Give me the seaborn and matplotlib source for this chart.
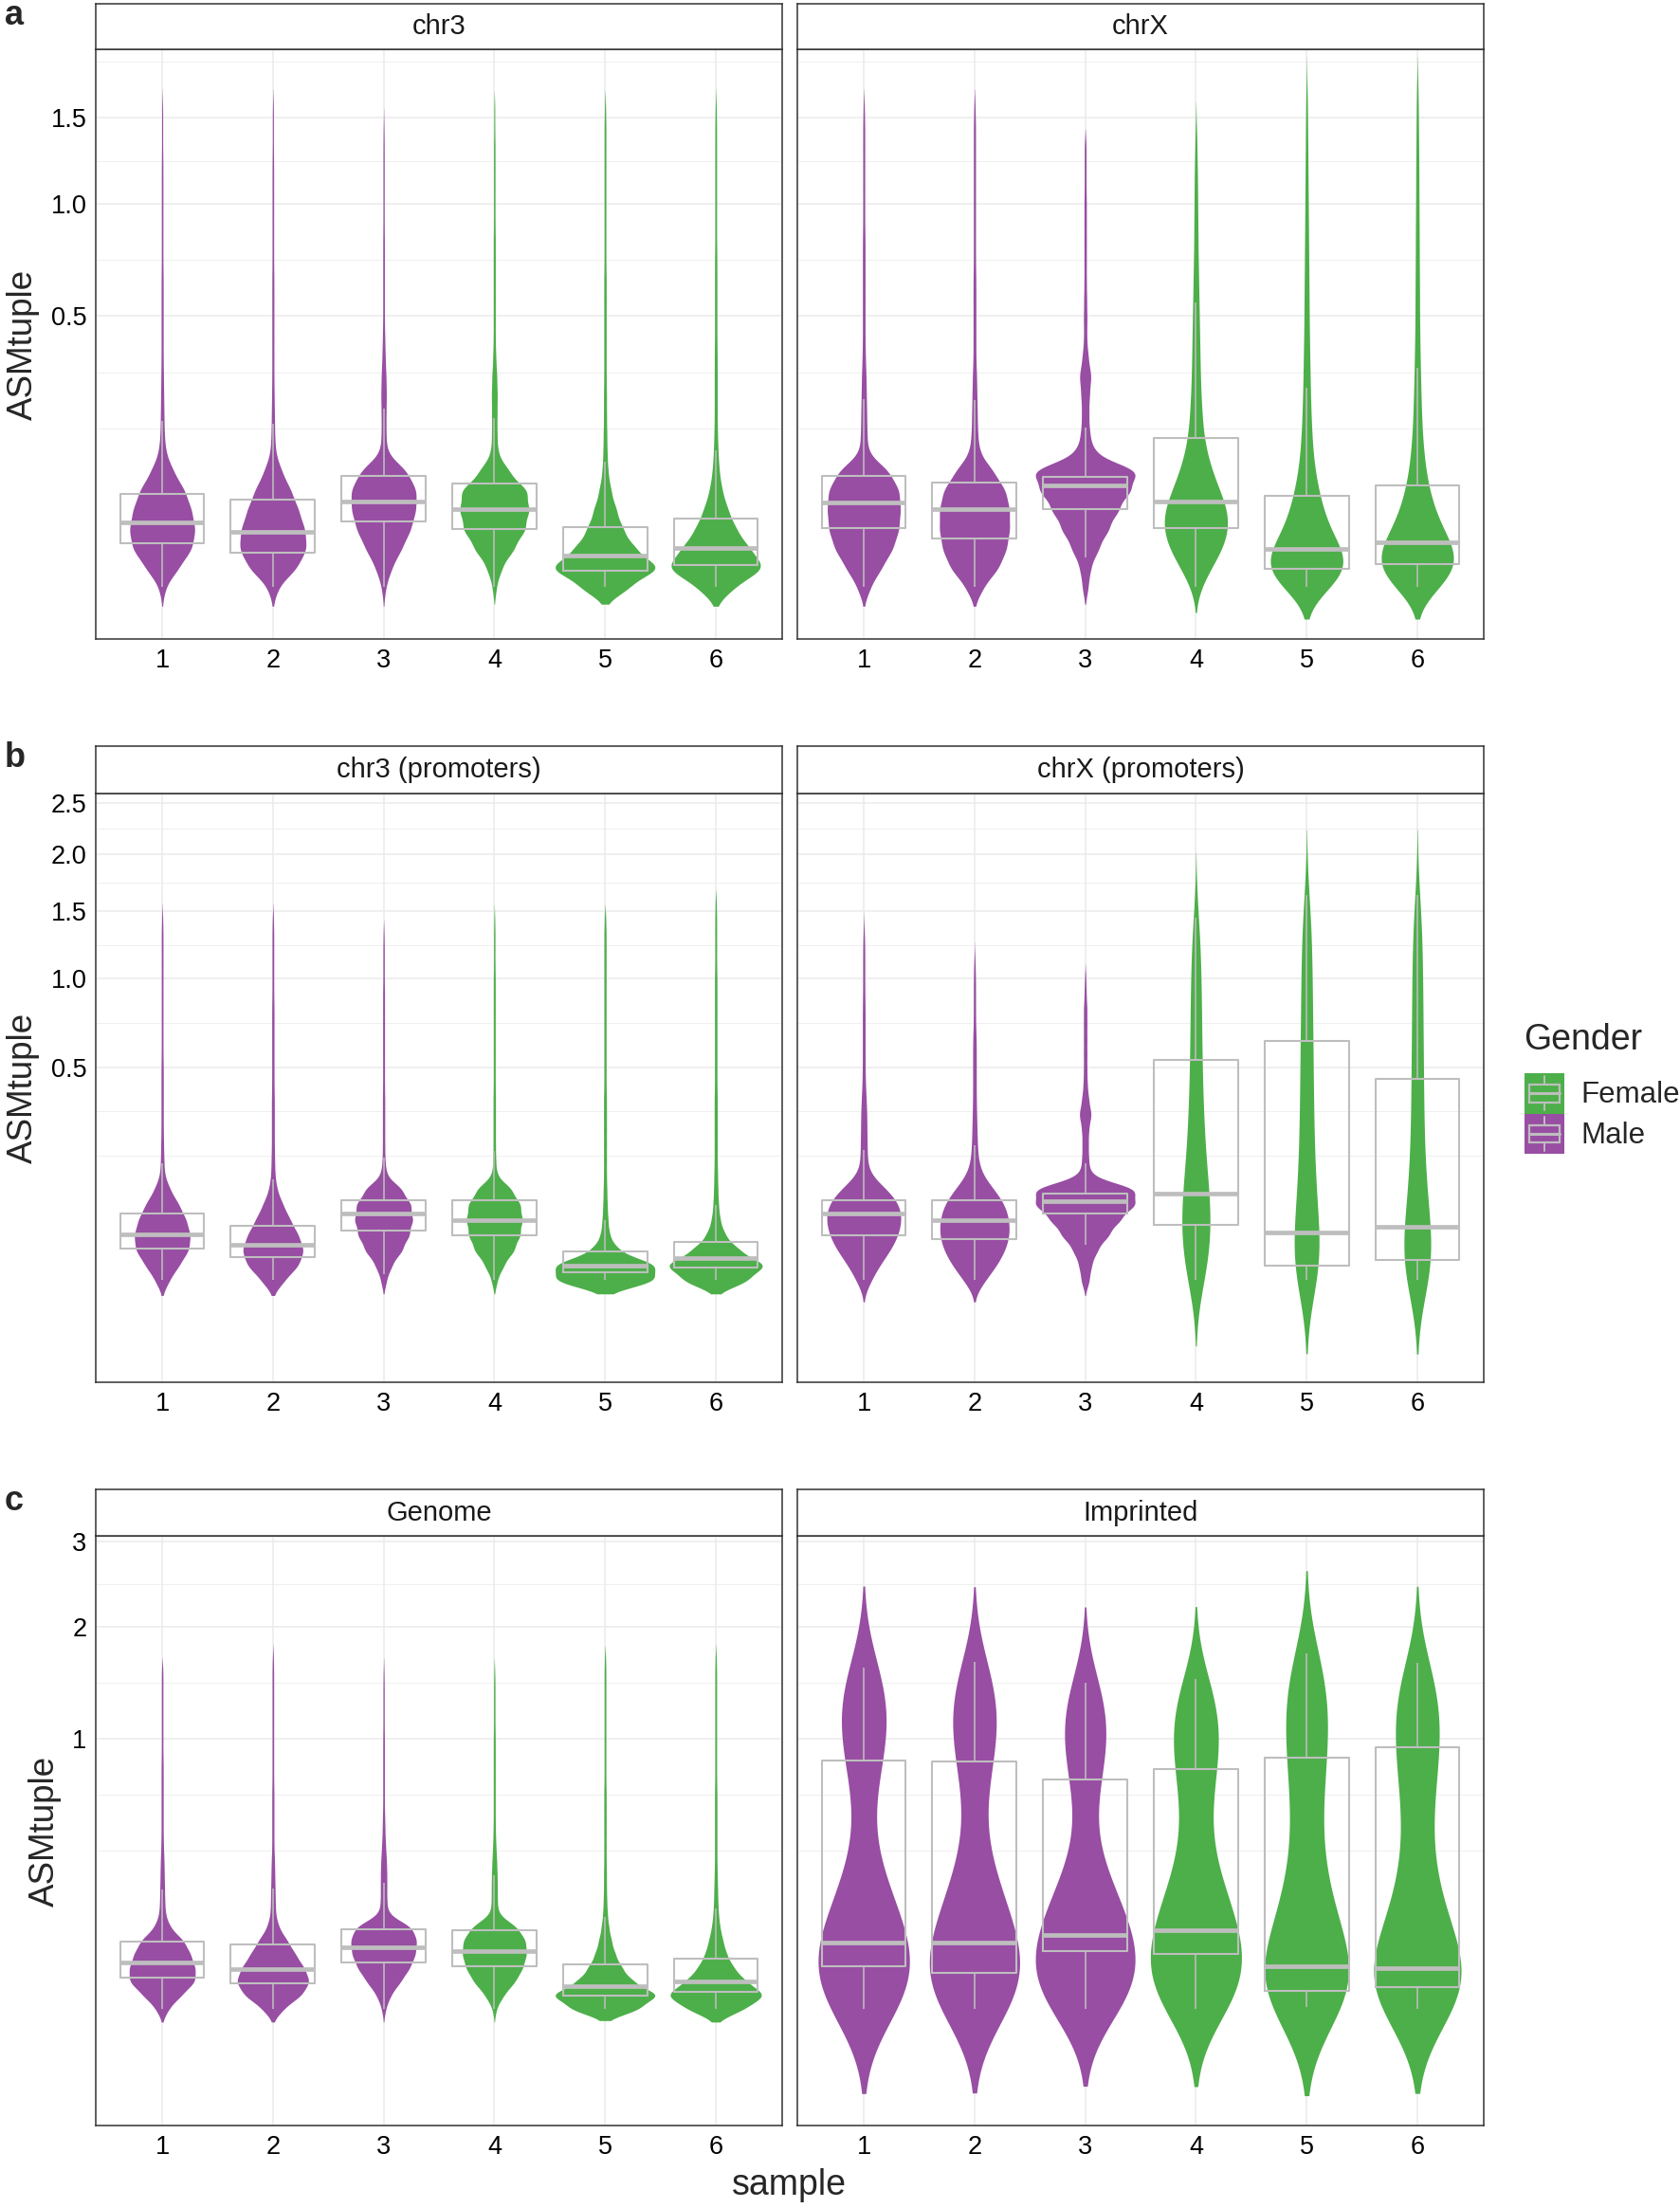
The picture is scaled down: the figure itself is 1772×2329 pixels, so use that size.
import numpy as np
import pandas as pd
import matplotlib
matplotlib.use("Agg")
import matplotlib.pyplot as plt
import seaborn as sns
from matplotlib.legend_handler import HandlerBase
from matplotlib.patches import Patch, Rectangle
from matplotlib.lines import Line2D

samples = ["1", "2", "3", "4", "5", "6"]
gender = ["Male", "Male", "Male", "Female", "Female", "Female"]
palette = {"Female": "#4DAF4A", "Male": "#984EA3"}
BOX_GREY = "#BEBEBE"

# violin outlines: counts per bin of sqrt(ASMtuple), bins 0.05 wide starting at 0
BIN = 0.05

a_chr3 = [
    [12, 65, 118, 130, 115, 90, 45, 14, 8, 7, 6, 5, 4, 4, 4, 4, 4, 3, 3, 3, 3, 3, 3, 2, 2, 2],
    [20, 95, 133, 125, 100, 72, 35, 10, 7, 6, 5, 4, 4, 4, 4, 4, 4, 3, 3, 3, 3, 3, 3, 2, 2, 2],
    [10, 40, 90, 135, 160, 165, 120, 15, 12, 12, 14, 12, 8, 6, 4, 4, 4, 4, 4, 3, 3, 3, 3, 3, 2],
    [8, 30, 80, 125, 140, 135, 60, 14, 11, 11, 12, 10, 6, 4, 4, 4, 4, 4, 4, 3, 3, 3, 3, 3, 2, 2],
    [80, 185, 100, 60, 38, 20, 10, 7, 6, 5, 5, 4, 4, 4, 4, 4, 4, 3, 3, 3, 3, 3, 3, 3, 3, 2],
    [62, 175, 115, 70, 42, 22, 12, 8, 6, 5, 5, 5, 5, 4, 4, 4, 4, 4, 3, 3, 3, 3, 3, 3, 3, 2],
]
a_chrX = [
    [20, 55, 90, 108, 112, 110, 80, 12, 10, 9, 8, 7, 5, 4, 4, 4, 4, 4, 4, 3, 3, 3, 3, 3, 3, 2],
    [25, 70, 92, 100, 100, 90, 55, 14, 9, 8, 7, 6, 4, 4, 4, 4, 4, 3, 3, 3, 3, 3, 3, 3, 3, 2],
    [10, 18, 45, 78, 110, 150, 180, 30, 15, 12, 14, 20, 10, 5, 6, 5, 4, 4, 4, 4, 4, 3, 3, 3],
    [15, 45, 78, 95, 92, 70, 48, 32, 22, 18, 15, 13, 12, 11, 10, 9, 8, 7, 6, 6, 5, 5, 4, 3, 2],
    [78, 142, 110, 72, 52, 38, 26, 20, 16, 14, 12, 11, 10, 9, 8, 8, 7, 7, 6, 6, 5, 5, 4, 4, 3, 3, 2],
    [74, 133, 120, 80, 55, 38, 27, 20, 16, 13, 12, 10, 9, 8, 7, 7, 7, 6, 6, 6, 5, 5, 5, 4, 4, 3, 3],
]
b_chr3 = [
    [25, 60, 95, 100, 85, 60, 28, 8, 6, 5, 4, 4, 4, 4, 4, 3, 3, 3, 3, 3, 3, 3, 3, 3, 2],
    [40, 90, 108, 88, 60, 35, 14, 7, 6, 5, 5, 5, 5, 4, 4, 4, 4, 4, 4, 3, 3, 3, 3, 3, 2],
    [12, 35, 80, 110, 125, 118, 80, 12, 6, 5, 5, 5, 5, 4, 4, 4, 4, 4, 4, 4, 3, 3, 3, 2],
    [12, 40, 85, 110, 120, 112, 75, 10, 6, 5, 5, 5, 5, 4, 4, 4, 4, 4, 4, 4, 4, 3, 3, 3, 2],
    [140, 140, 35, 12, 8, 6, 5, 4, 4, 4, 4, 4, 4, 3, 3, 3, 3, 3, 3, 3, 3, 3, 3, 3, 2],
    [105, 165, 75, 30, 14, 9, 7, 6, 5, 5, 5, 5, 5, 4, 4, 4, 4, 4, 4, 4, 4, 3, 3, 3, 3, 2],
]
b_chrX = [
    [22, 45, 78, 100, 110, 105, 70, 15, 10, 10, 9, 9, 7, 5, 4, 4, 4, 4, 4, 3, 3, 3, 3, 2],
    [30, 62, 85, 97, 95, 85, 55, 20, 10, 8, 7, 6, 5, 5, 5, 5, 5, 3, 3, 3, 3, 2],
    [12, 18, 35, 68, 100, 145, 150, 15, 10, 9, 10, 18, 10, 6, 5, 5, 5, 5, 5, 3, 2],
    [40, 38, 42, 47, 50, 46, 40, 34, 30, 27, 25, 23, 22, 20, 19, 18, 18, 18, 17, 17, 16, 15, 14, 13, 12],
    [60, 48, 44, 38, 33, 30, 27, 25, 23, 22, 21, 20, 20, 20, 19, 19, 18, 18, 17, 17, 16, 16, 15, 15, 14, 14],
    [62, 50, 45, 40, 34, 28, 25, 22, 20, 19, 18, 18, 17, 17, 17, 16, 16, 16, 15, 15, 15, 14, 14, 13, 13, 13],
]
c_genome = [
    [25, 75, 130, 128, 110, 85, 30, 12, 10, 9, 8, 7, 5, 4, 4, 4, 4, 4, 4, 3, 3, 3, 3, 3, 3, 3],
    [40, 110, 140, 118, 85, 55, 22, 10, 9, 8, 7, 6, 4, 4, 4, 4, 4, 3, 3, 3, 3, 3, 3, 3, 3, 3, 2],
    [10, 35, 85, 130, 158, 165, 145, 20, 16, 16, 16, 14, 10, 7, 6, 4, 4, 4, 4, 4, 4, 3, 3, 3, 3, 2],
    [8, 40, 90, 122, 138, 135, 100, 15, 13, 13, 12, 10, 7, 5, 4, 4, 4, 4, 4, 4, 4, 3, 3, 3, 3, 2],
    [120, 185, 95, 58, 35, 22, 13, 8, 6, 5, 5, 4, 4, 4, 4, 4, 4, 3, 3, 3, 3, 3, 3, 3, 3, 3, 2],
    [100, 172, 100, 60, 36, 24, 14, 9, 7, 6, 5, 4, 4, 4, 4, 4, 4, 3, 3, 3, 3, 3, 3, 3, 3, 3, 2],
]
c_imprinted = [
    [210, 195, 185, 178, 168, 155, 138, 118, 98, 76, 56, 40, 28, 22, 20, 22, 30, 44, 58, 72, 82, 88, 90, 90, 88, 86],
    [225, 200, 180, 168, 158, 146, 132, 116, 98, 80, 62, 46, 34, 26, 22, 24, 32, 46, 58, 70, 78, 84, 86, 86, 84, 82],
    [230, 215, 205, 200, 195, 185, 170, 150, 125, 98, 72, 50, 34, 26, 24, 28, 40, 56, 70, 80, 88, 90, 88, 84, 80],
    [215, 200, 192, 188, 184, 176, 162, 145, 122, 98, 78, 62, 52, 46, 44, 48, 58, 70, 82, 90, 95, 96, 94, 90, 86],
    [260, 220, 190, 168, 148, 128, 110, 95, 80, 68, 60, 52, 48, 46, 46, 48, 54, 60, 66, 70, 74, 76, 77, 77, 76, 75, 73],
    [255, 215, 185, 162, 142, 122, 104, 88, 72, 60, 52, 46, 42, 41, 42, 46, 53, 60, 66, 71, 75, 77, 78, 78, 77, 76],
]

# boxplot stats in sqrt(ASMtuple): lower whisker, Q1, median, Q3, upper whisker
a_chr3_box = [
    [0.0, 0.115, 0.168, 0.244, 0.434],
    [0.0, 0.090, 0.144, 0.227, 0.426],
    [0.0, 0.170, 0.223, 0.290, 0.466],
    [0.0, 0.152, 0.204, 0.270, 0.441],
    [0.0, 0.043, 0.081, 0.156, 0.326],
    [0.0, 0.056, 0.101, 0.178, 0.356],
]
a_chrX_box = [
    [0.0, 0.153, 0.221, 0.290, 0.491],
    [0.0, 0.127, 0.202, 0.273, 0.487],
    [0.076, 0.204, 0.265, 0.287, 0.415],
    [0.0, 0.153, 0.223, 0.390, 0.742],
    [0.0, 0.048, 0.099, 0.238, 0.521],
    [0.0, 0.059, 0.117, 0.266, 0.571],
]
b_chr3_box = [
    [0.0, 0.104, 0.153, 0.220, 0.389],
    [0.0, 0.078, 0.118, 0.182, 0.335],
    [0.02, 0.166, 0.220, 0.264, 0.406],
    [0.0, 0.150, 0.201, 0.264, 0.429],
    [0.0, 0.027, 0.049, 0.097, 0.198],
    [0.0, 0.042, 0.074, 0.127, 0.251],
]
b_chrX_box = [
    [0.0, 0.150, 0.220, 0.266, 0.432],
    [0.0, 0.136, 0.201, 0.264, 0.449],
    [0.117, 0.220, 0.263, 0.288, 0.389],
    [0.0, 0.185, 0.289, 0.731, 1.202],
    [0.0, 0.049, 0.158, 0.793, 1.277],
    [0.0, 0.066, 0.176, 0.668, 1.277],
]
c_genome_box = [
    [0.0, 0.114, 0.169, 0.247, 0.440],
    [0.0, 0.093, 0.147, 0.236, 0.445],
    [0.0, 0.172, 0.226, 0.293, 0.466],
    [0.0, 0.155, 0.212, 0.291, 0.493],
    [0.0, 0.047, 0.083, 0.164, 0.338],
    [0.0, 0.060, 0.100, 0.186, 0.372],
]
c_imprinted_box = [
    [0.0, 0.155, 0.243, 0.919, 1.264],
    [0.0, 0.131, 0.243, 0.917, 1.286],
    [0.0, 0.212, 0.271, 0.850, 1.209],
    [0.0, 0.203, 0.291, 0.888, 1.221],
    [0.007, 0.064, 0.155, 0.931, 1.316],
    [0.0, 0.078, 0.148, 0.969, 1.281],
]

# per panel: (title, counts, box stats, bandwidth scale, cut)
rows = [
    dict(letter="a", strip_top=4, top=52, bottom=674, ylim=(-0.136, 1.404),
         ticks=[0.5, 1.0, 1.5], labels=["0.5", "1.0", "1.5"],
         panels=[("chr3", a_chr3, a_chr3_box, 0.25, 1.8),
                 ("chrX", a_chrX, a_chrX_box, 0.25, 1.8)]),
    dict(letter="b", strip_top=787, top=837, bottom=1458, ylim=(-0.338, 1.614),
         ticks=[0.5, 1.0, 1.5, 2.0, 2.5], labels=["0.5", "1.0", "1.5", "2.0", "2.5"],
         panels=[("chr3 (promoters)", b_chr3, b_chr3_box, 0.25, 1.8),
                 ("chrX (promoters)", b_chrX, b_chrX_box, 0.32, 2.0)]),
    dict(letter="c", strip_top=1571, top=1620, bottom=2242, ylim=(-0.434, 1.752),
         ticks=[1, 2, 3], labels=["1", "2", "3"],
         panels=[("Genome", c_genome, c_genome_box, 0.25, 1.8),
                 ("Imprinted", c_imprinted, c_imprinted_box, 0.38, 2.0)]),
]
cols = [(101, 825), (841, 1565)]

W, H = 1772, 2329
sns.set_theme(style="white")
plt.rcParams["font.family"] = ["Liberation Sans", "DejaVu Sans"]


def px_rect(x0, y0, x1, y1):
    return [x0 / W, 1 - y1 / H, (x1 - x0) / W, (y1 - y0) / H]


def make_bw(scale):
    # bandwidth follows the spread of each violin, like ggplot's nrd0
    def rule(kde):
        x = kde.dataset[0]
        sd = x.std(ddof=1)
        q1, q3 = np.percentile(x, [25, 75])
        spread = min(sd, (q3 - q1) / 1.34)
        return max(0.025, scale * spread) / sd
    return rule


def violin_frame(counts):
    parts = []
    for s, g, c in zip(samples, gender, counts):
        centres = np.arange(len(c)) * BIN
        parts.append(pd.DataFrame({"sample": s, "Gender": g, "y": np.repeat(centres, c)}))
    return pd.concat(parts, ignore_index=True)


def box_frame(stats):
    recs = [(s, g, v) for s, g, st in zip(samples, gender, stats) for v in st]
    return pd.DataFrame(recs, columns=["sample", "Gender", "y"])


def minor_breaks(major, lo, hi):
    # ggplot style minor breaks: midpoints between (extended) majors
    b = list(major)
    step = b[1] - b[0]
    if lo < b[0]:
        b = [b[0] - step] + b
    if hi > b[-1]:
        b = b + [b[-1] + step]
    mids = [(u + v) / 2 for u, v in zip(b[:-1], b[1:])]
    return [m for m in b + mids if lo <= m <= hi and not np.isclose(major, m).any()]


class BoxKey(HandlerBase):
    def create_artists(self, legend, orig_handle, xdescent, ydescent, width, height, fontsize, trans):
        x0, y0 = -xdescent, -ydescent
        arts = [Rectangle((x0, y0), width, height, facecolor=orig_handle.get_facecolor(),
                          edgecolor="none", transform=trans)]
        bl, br = x0 + 0.12 * width, x0 + 0.88 * width
        bb, bt = y0 + 0.28 * height, y0 + 0.72 * height
        cx = x0 + 0.5 * width
        arts.append(Rectangle((bl, bb), br - bl, bt - bb, fill=False, edgecolor=BOX_GREY,
                              lw=1.6, transform=trans))
        arts.append(Line2D([bl, br], [y0 + 0.5 * height] * 2, color=BOX_GREY, lw=2.2, transform=trans))
        arts.append(Line2D([cx, cx], [y0 + 0.08 * height, bb], color=BOX_GREY, lw=1.4, transform=trans))
        arts.append(Line2D([cx, cx], [bt, y0 + 0.92 * height], color=BOX_GREY, lw=1.4, transform=trans))
        return arts


fig = plt.figure(figsize=(W / 100, H / 100), dpi=100)

for row in rows:
    major = np.sqrt(row["ticks"])
    minor = minor_breaks(major, *row["ylim"])
    for c, (title, counts, stats, bw_scale, cut) in enumerate(row["panels"]):
        x0, x1 = cols[c]
        ax = fig.add_axes(px_rect(x0, row["top"], x1, row["bottom"]))
        sns.violinplot(data=violin_frame(counts), x="sample", y="y", hue="Gender",
                       order=samples, hue_order=["Female", "Male"], palette=palette,
                       dodge=False, inner=None, density_norm="area", common_norm=True,
                       bw_method=make_bw(bw_scale), cut=cut, gridsize=300, width=0.9,
                       saturation=1, linewidth=0, legend=False, ax=ax)
        sns.boxplot(data=box_frame(stats), x="sample", y="y", order=samples, width=0.76,
                    fill=False, color=BOX_GREY, whis=(0, 100), showcaps=False,
                    showfliers=False, linewidth=1.5, medianprops={"linewidth": 3.4},
                    whiskerprops={"linewidth": 1.15}, ax=ax)

        ax.set_xlim(-0.6, 5.6)
        ax.set_ylim(*row["ylim"])
        ax.set_yticks(major)
        ax.set_yticks(minor, minor=True)
        ax.set_xlabel("")
        if c == 0:
            ax.set_yticklabels(row["labels"])
            ax.set_ylabel("ASMtuple", fontsize=26.5, labelpad=8)
        else:
            ax.set_ylabel("")
            ax.tick_params(axis="y", which="both", left=False, labelleft=False)
        ax.tick_params(which="major", length=4, width=1.1, color="#333333",
                       labelsize=19.5, labelcolor="black", pad=3)
        ax.tick_params(which="minor", length=0)
        ax.grid(True, which="major", color="#EBEBEB", lw=1.1)
        ax.grid(True, which="minor", axis="y", color="#EBEBEB", lw=0.55)
        ax.set_axisbelow(True)
        for sp in ax.spines.values():
            sp.set_color("#333333")
            sp.set_linewidth(1.1)

        sax = fig.add_axes(px_rect(x0, row["strip_top"], x1, row["top"]))
        sax.set_xticks([])
        sax.set_yticks([])
        sax.set_facecolor("white")
        for sp in sax.spines.values():
            sp.set_color("#333333")
            sp.set_linewidth(1.1)
        sax.text(0.5, 0.5, title, ha="center", va="center", fontsize=21,
                 color="#1A1A1A", transform=sax.transAxes)

    fig.text(5 / W, 1 - (row["strip_top"] + 22) / H, row["letter"], fontsize=26,
             fontweight="bold", ha="left", va="baseline")

fig.text(832 / W, 1 - 2305 / H, "sample", fontsize=27, ha="center", va="center")

fig.text(1607 / W, 1 - 1097 / H, "Gender", fontsize=27, ha="left", va="center")
handles = [Patch(facecolor=palette["Female"]), Patch(facecolor=palette["Male"])]
fig.legend(handles, ["Female", "Male"], handler_map={Patch: BoxKey()},
           loc="upper left", bbox_to_anchor=(1608 / W, 1 - 1132 / H), frameon=False,
           fontsize=22.5, handlelength=1.34, handleheight=1.72,
           labelspacing=0, handletextpad=0.55, borderpad=0, borderaxespad=0)

fig.savefig("out.png", dpi=100)
